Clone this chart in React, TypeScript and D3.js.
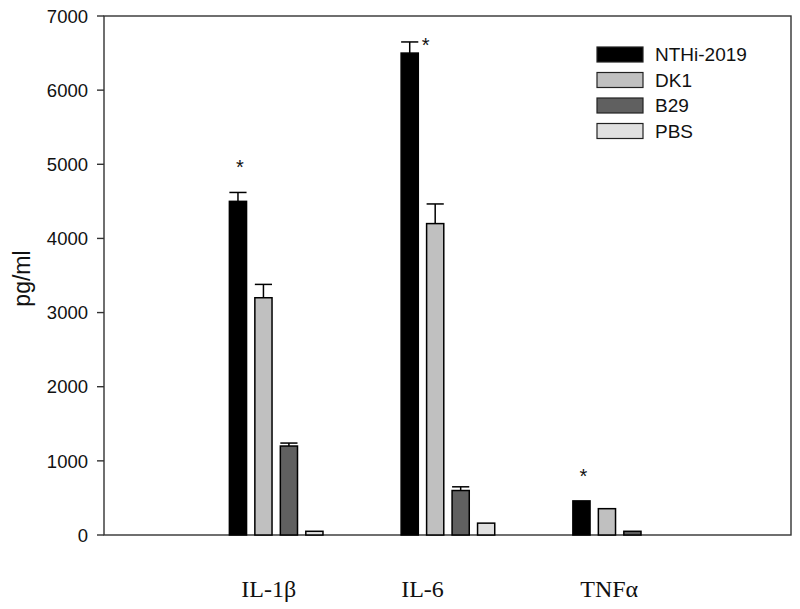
import React from 'react';
import * as d3 from 'd3';

const categories = ['IL-1β', 'IL-6', 'TNFα'];
const seriesNames = ['NTHi-2019', 'DK1', 'B29', 'PBS'];
const seriesColors = ['#000000', '#c0c0c0', '#606060', '#e0e0e0'];
const nthiValues = [4500, 6500, 460];
const nthiErrors = [120, 150, 0];
const dk1Values = [3200, 4200, 355];
const dk1Errors = [180, 265, 0];
const b29Values = [1200, 600, 50];
const b29Errors = [40, 50, 0];
const pbsValues = [50, 160, 0];
const pbsErrors = [0, 0, 0];
const significant = [true, true, true];
const yTicks = [0, 1000, 2000, 3000, 4000, 5000, 6000, 7000];

const seriesValues = [nthiValues, dk1Values, b29Values, pbsValues];
const seriesErrors = [nthiErrors, dk1Errors, b29Errors, pbsErrors];

const width = 800;
const height = 609;
const left = 104;
const right = 791;
const top = 16;
const bottom = 535;

const App = () => {
  const x = d3.scaleLinear().domain([0, categories.length + 1]).range([left, right]);
  const y = d3.scaleLinear().domain([0, 7000]).range([bottom, top]);
  const offsets = d3.scaleLinear().domain([0, seriesNames.length - 1]).range([-0.22, 0.225]);
  const barW = x(0.1) - x(0);
  const labelShift = [-7, -25, -10];

  return (
    <svg width={width} height={height} style={{ position: 'absolute', left: 0, top: 0 }}>
      <rect x={left} y={top} width={right - left} height={bottom - top} fill="none" stroke="#333" strokeWidth={1.4} />
      {yTicks.map((t) => (
        <g key={t}>
          <line x1={left - 7} x2={left} y1={y(t)} y2={y(t)} stroke="#333" strokeWidth={1.4} />
          <text x={88} y={y(t)} dy="0.36em" textAnchor="end" fontFamily="Arial, 'Liberation Sans'" fontSize={18.5} fill="#111">
            {t}
          </text>
        </g>
      ))}
      <text
        transform={`translate(30,${(top + bottom) / 2 + 3}) rotate(-90)`}
        textAnchor="middle"
        fontFamily="Arial, 'Liberation Sans'"
        fontSize={23}
        fill="#111"
      >
        pg/ml
      </text>
      {seriesNames.map((name, s) =>
        categories.map((c, i) => {
          const v = seriesValues[s][i];
          if (!v) return null;
          const cx = x(i + 1 + offsets(s));
          const e = seriesErrors[s][i];
          return (
            <g key={name + c}>
              {e > 0 && (
                <g stroke="#000" strokeWidth={1.5}>
                  <line x1={cx} x2={cx} y1={y(v)} y2={y(v + e)} />
                  <line x1={cx - barW / 2} x2={cx + barW / 2} y1={y(v + e)} y2={y(v + e)} />
                </g>
              )}
              <rect
                x={cx - barW / 2}
                y={y(v)}
                width={barW}
                height={y(0) - y(v)}
                fill={seriesColors[s]}
                stroke="#000"
                strokeWidth={1.5}
              />
            </g>
          );
        })
      )}
      {categories.map((c, i) => {
        if (!significant[i]) return null;
        const v = nthiValues[i] + nthiErrors[i];
        const cx = x(i + 1 + offsets(0));
        const isBeside = i === 1;
        return (
          <text
            key={'star' + c}
            x={isBeside ? cx + 16 : cx + 2}
            y={isBeside ? y(v) + 10 : y(v) - 18}
            textAnchor="middle"
            fontFamily="Arial, 'Liberation Sans'"
            fontSize={20}
            fill="#111"
          >
            *
          </text>
        );
      })}
      {categories.map((c, i) => (
        <text
          key={'lab' + c}
          x={x(i + 1) + labelShift[i]}
          y={597}
          textAnchor="middle"
          fontFamily="'Liberation Serif', 'Times New Roman', serif"
          fontSize={24}
          fill="#111"
        >
          {c}
        </text>
      ))}
      {seriesNames.map((name, s) => (
        <g key={'leg' + name} transform={`translate(597,${47 + s * 25.5})`}>
          <rect x={0} y={0} width={46} height={15} fill={seriesColors[s]} stroke="#222" strokeWidth={1.2} />
          <text x={58} y={7.5} dy="0.36em" fontFamily="Arial, 'Liberation Sans'" fontSize={19} fill="#111">
            {name}
          </text>
        </g>
      ))}
    </svg>
  );
};

export default App;
